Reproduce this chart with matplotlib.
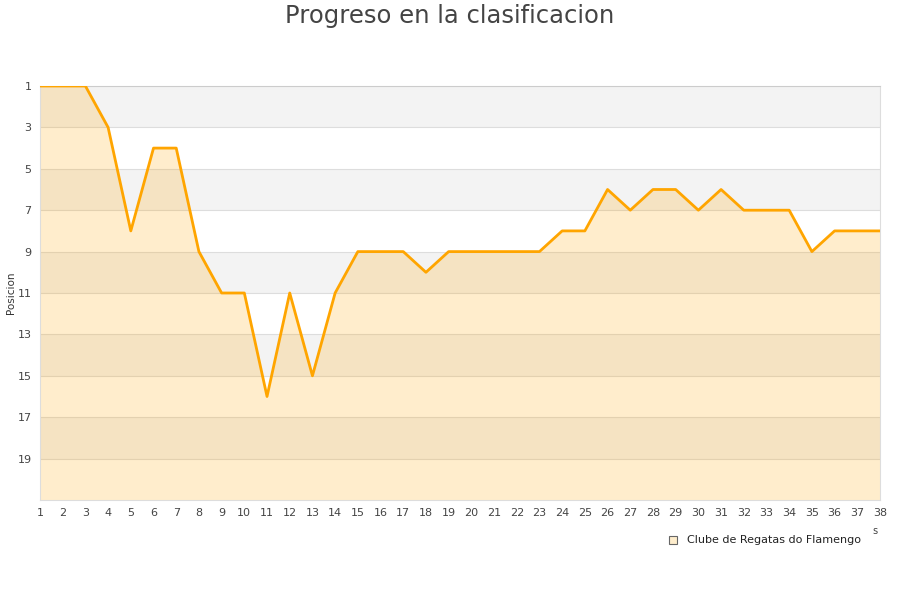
import numpy as np
import matplotlib.pyplot as plt

# datos de la clasificacion
jornadas = list(range(1, 39))
posicion = [1, 1, 1, 3, 8, 4, 4, 9, 11, 11, 16, 11, 15, 11, 9, 9, 9, 10, 9, 9,
            9, 9, 9, 8, 8, 6, 7, 6, 6, 7, 6, 7, 7, 7, 9, 8, 8, 8]
y_ticks = [1, 3, 5, 7, 9, 11, 13, 15, 17, 19]
equipo = "Clube de Regatas do Flamengo"

fig = plt.figure(figsize=(9, 6), dpi=100)
ax = fig.add_axes([40 / 900, 1 - 500 / 600, 840 / 900, 414 / 600])

# bandas alternas
for b in range(1, 21, 4):
    ax.axhspan(b, b + 2, color="#f3f3f3", zorder=0, lw=0)
for t in y_ticks[1:]:
    ax.axhline(t, color="#dddddd", lw=0.8, zorder=1)

ax.fill_between(jornadas, posicion, 21, color="#ffa500", alpha=0.2, lw=0, zorder=2)
ax.plot(jornadas, posicion, color="#ffa500", lw=2.0, zorder=3)

ax.set_xlim(1, 38)
ax.set_ylim(21, 1)
ax.set_xticks(jornadas)
ax.set_yticks(y_ticks)
ax.tick_params(length=0, labelsize=8, colors="#444444", pad=6)
for s in ["left", "bottom", "right", "top"]:
    ax.spines[s].set_color("#dddddd")
ax.spines["top"].set_color("#cccccc")
ax.set_ylabel("Posicion", fontsize=7.5, color="#333333", labelpad=1)

fig.text(0.5, 1 - 16 / 600, "Progreso en la clasificacion", fontsize=17.5,
         color="#444444", ha="center", va="center")
fig.text(875 / 900, 1 - 531 / 600, "s", fontsize=7, color="#444444", ha="center", va="center")

# leyenda
fig.patches.append(plt.Rectangle((669 / 900, 1 - 544 / 600), 8 / 900, 8 / 600,
                                 transform=fig.transFigure, facecolor="#feedcc",
                                 edgecolor="#666666", lw=0.8))
fig.text(687 / 900, 1 - 540 / 600, equipo, fontsize=8, color="#222222", va="center")

fig.savefig("out.png", dpi=100)
